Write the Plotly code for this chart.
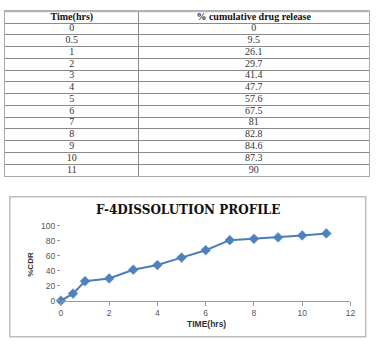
import plotly.graph_objects as go

time_hrs = [0, 0.5, 1, 2, 3, 4, 5, 6, 7, 8, 9, 10, 11]
cdr = [0, 9.5, 26.1, 29.7, 41.4, 47.7, 57.6, 67.5, 81, 82.8, 84.6, 87.3, 90]
time_labels = ["0", "0.5", "1", "2", "3", "4", "5", "6", "7", "8", "9", "10", "11"]
cdr_labels = ["0", "9.5", "26.1", "29.7", "41.4", "47.7", "57.6", "67.5", "81", "82.8", "84.6", "87.3", "90"]
header_labels = ["Time(hrs)", "% cumulative drug release"]
x_ticks = [0, 2, 4, 6, 8, 10, 12]
y_ticks = [0, 20, 40, 60, 80, 100]

W, H = 380, 346

def px(x):
    return x / W

def py(y):
    return 1 - y / H

# table geometry (pixel units on the table axes)
T_LEFT, T_DIV, T_RIGHT = 3, 139.3, 373.5
n_rows = len(time_labels) + 1
col1_c = (T_LEFT + T_DIV) / 2
col2_c = (T_DIV + T_RIGHT) / 2

fig = go.Figure()

# table text: header row (index 0) + data rows
row_idx = list(range(1, n_rows))
fig.add_trace(go.Scatter(
    x=[col1_c, col2_c], y=[0, 0], mode="text",
    text=["<b>%s</b>" % h for h in header_labels],
    textfont=dict(family="Liberation Serif", size=10, color="#111111"),
    xaxis="x2", yaxis="y2", showlegend=False, hoverinfo="skip",
))
fig.add_trace(go.Scatter(
    x=[col1_c] * len(time_labels), y=row_idx, mode="text",
    text=time_labels,
    textfont=dict(family="Liberation Serif", size=10, color="#333333"),
    xaxis="x2", yaxis="y2", showlegend=False, hoverinfo="skip",
))
fig.add_trace(go.Scatter(
    x=[col2_c] * len(cdr_labels), y=row_idx, mode="text",
    text=cdr_labels,
    textfont=dict(family="Liberation Serif", size=10, color="#333333"),
    xaxis="x2", yaxis="y2", showlegend=False, hoverinfo="skip",
))

fig.add_trace(go.Scatter(
    x=time_hrs, y=cdr, mode="lines+markers",
    line=dict(color="#4a7ebb", width=2),
    marker=dict(symbol="diamond", size=7.5, color="#4f81bd",
                line=dict(color="#4a7ebb", width=0.5)),
    showlegend=False, cliponaxis=False,
))

fig.update_layout(
    width=W, height=H,
    margin=dict(l=0, r=0, t=0, b=0),
    paper_bgcolor="white", plot_bgcolor="white",
    xaxis=dict(
        domain=[px(60), px(355)], range=[0, 12],
        tickvals=x_ticks, showgrid=False, zeroline=False,
        showline=True, linecolor="#9a9a9a", linewidth=1,
        ticks="outside", ticklen=4, tickcolor="#9a9a9a",
        tickfont=dict(family="Liberation Sans", size=8.5, color="#555555"),
        anchor="y", fixedrange=True,
    ),
    yaxis=dict(
        domain=[py(304.5), py(227.5)], range=[0, 100],
        tickvals=y_ticks, showgrid=False, zeroline=False,
        showline=False,
        ticks="outside", ticklen=3, tickcolor="#9a9a9a",
        tickfont=dict(family="Liberation Sans", size=8.5, color="#555555"),
        anchor="x", fixedrange=True,
    ),
    xaxis2=dict(
        domain=[px(T_LEFT), px(T_RIGHT)], range=[T_LEFT, T_RIGHT],
        tickvals=[T_DIV], showticklabels=False, ticks="",
        showgrid=True, gridcolor="#8a8a8a", gridwidth=1,
        zeroline=False, showline=True, mirror=True,
        linecolor="#a8a8a8", linewidth=1,
        anchor="y2", fixedrange=True,
    ),
    yaxis2=dict(
        domain=[py(176), py(6.5)], range=[n_rows - 0.5, -0.5],
        tickvals=[i + 0.5 for i in range(n_rows - 1)],
        showticklabels=False, ticks="",
        showgrid=True, gridcolor="#8a8a8a", gridwidth=1,
        zeroline=False, showline=True, mirror=True,
        linecolor="#a8a8a8", linewidth=1,
        anchor="x2", fixedrange=True,
    ),
    shapes=[
        dict(type="rect", xref="paper", yref="paper",
             x0=px(8), x1=px(370.5), y0=py(341.5), y1=py(197.5),
             line=dict(color="#bdbdbd", width=1.5), layer="below"),
        dict(type="line", xref="paper", yref="paper",
             x0=px(T_LEFT), x1=px(T_RIGHT), y0=py(6.5), y1=py(6.5),
             line=dict(color="#b5b5b5", width=2)),
    ],
    annotations=[
        dict(text="<b>F-4DISSOLUTION PROFILE</b>", xref="paper", yref="paper",
             x=px(189), y=py(211), xanchor="center", yanchor="middle",
             showarrow=False,
             font=dict(family="DejaVu Serif", size=12, color="#111111")),
        dict(text="<b>TIME(hrs)</b>", xref="paper", yref="paper",
             x=px(208), y=py(328.5), xanchor="center", yanchor="middle",
             showarrow=False,
             font=dict(family="Liberation Sans", size=8.5, color="#333333")),
        dict(text="<b>%CDR</b>", xref="paper", yref="paper",
             x=px(29), y=py(267), xanchor="center", yanchor="middle",
             showarrow=False, textangle=-90,
             font=dict(family="Liberation Sans", size=8, color="#333333")),
    ],
)

fig.write_html("out.html")
